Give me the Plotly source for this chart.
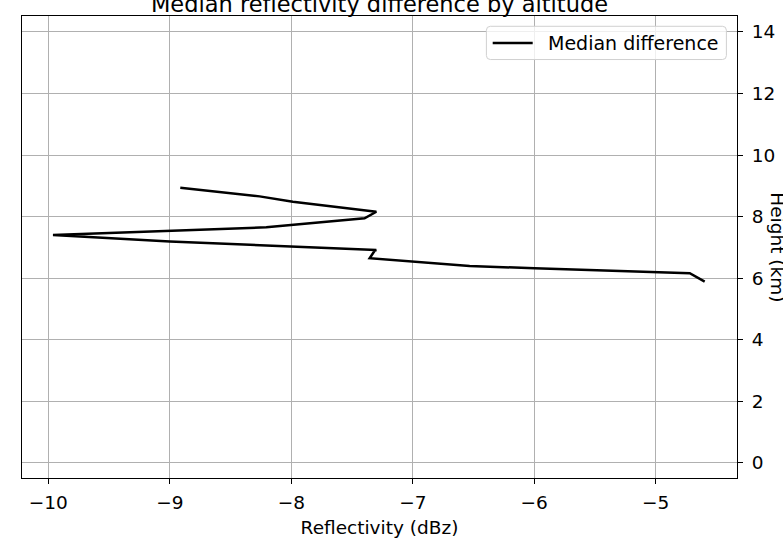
import plotly.graph_objects as go

# Median reflectivity difference (dBz) at each height level (km)
reflectivity_diff = [-8.914, -8.261, -7.987, -7.300, -7.397, -8.206, -9.962,
                     -9.000, -7.300, -7.314, -7.355, -7.000, -6.532, -5.998,
                     -4.996, -4.720, -4.597]
height_km = [8.935, 8.656, 8.481, 8.156, 7.942, 7.649, 7.399,
             7.190, 6.912, 6.890, 6.643, 6.532, 6.393, 6.318,
             6.175, 6.156, 5.883]

x_ticks = [-10, -9, -8, -7, -6, -5]
y_ticks = [0, 2, 4, 6, 8, 10, 12, 14]
series_name = "Median difference"

W, H = 783, 538
L, R, T, B = 22.3, 45.7, 15.7, 59.7
PW, PH = W - L - R, H - T - B
FONT = "DejaVu Sans"


def px_x(p):
    return (p - L) / PW


def px_y(p):
    return (H - B - p) / PH


fig = go.Figure()
fig.add_trace(go.Scatter(
    x=reflectivity_diff, y=height_km, mode="lines",
    name=series_name, showlegend=False,
    line=dict(color="black", width=2.5),
))

axis_common = dict(
    showline=True, mirror=True, linecolor="black", linewidth=1.2,
    showgrid=True, gridcolor="#b0b0b0", gridwidth=1,
    ticks="outside", ticklen=5, tickwidth=1.2, tickcolor="black",
    zeroline=False, automargin=False,
    tickfont=dict(family=FONT, size=18.5, color="black"),
)

# legend box (rounded), sample line and label in the upper right corner
bx0, bx1, by0, by1, rr = px_x(486.7), px_x(726.7), px_y(59.3), px_y(26), 4
rx, ry = rr / PW, rr / PH
legend_box = (
    f"M {bx0 + rx},{by0} L {bx1 - rx},{by0} Q {bx1},{by0} {bx1},{by0 + ry} "
    f"L {bx1},{by1 - ry} Q {bx1},{by1} {bx1 - rx},{by1} "
    f"L {bx0 + rx},{by1} Q {bx0},{by1} {bx0},{by1 - ry} "
    f"L {bx0},{by0 + ry} Q {bx0},{by0} {bx0 + rx},{by0} Z"
)
ly = px_y(42.7)

fig.update_layout(
    width=W, height=H,
    margin=dict(l=L, r=R, t=T, b=B, autoexpand=False),
    paper_bgcolor="white", plot_bgcolor="white",
    font=dict(family=FONT, color="black"),
    title=dict(
        text="Median reflectivity difference by altitude",
        font=dict(family=FONT, size=22.5, color="black"),
        x=0.5, xref="paper", xanchor="center",
        y=1 - 12 / H, yref="container", yanchor="bottom",
        automargin=False,
    ),
    xaxis=dict(
        range=[-10.217, -4.331], tickvals=x_ticks, ticklabelstandoff=3,
        title=dict(text="Reflectivity (dBz)", font=dict(family=FONT, size=18.5),
                   standoff=8),
        **axis_common,
    ),
    yaxis=dict(
        range=[-0.5, 14.52], tickvals=y_ticks, side="right", ticklabelstandoff=5,
        **axis_common,
    ),
    showlegend=False,
    shapes=[
        dict(type="path", xref="paper", yref="paper", path=legend_box,
             fillcolor="rgba(255,255,255,0.8)", line=dict(color="#d0d0d0", width=1)),
        dict(type="line", xref="paper", yref="paper",
             x0=px_x(493), x1=px_x(533), y0=ly, y1=ly,
             line=dict(color="black", width=2.5)),
    ],
    annotations=[
        dict(text=series_name, xref="paper", yref="paper",
             x=px_x(546), y=ly, xanchor="left", yanchor="middle",
             showarrow=False, font=dict(family=FONT, size=19, color="black")),
        dict(text="Height (km)", textangle=90,
             xref="paper", yref="paper",
             x=px_x(778), y=0.5,
             xanchor="center", yanchor="middle", showarrow=False,
             font=dict(family=FONT, size=18.5, color="black")),
    ],
)

fig.write_html("out.html")
